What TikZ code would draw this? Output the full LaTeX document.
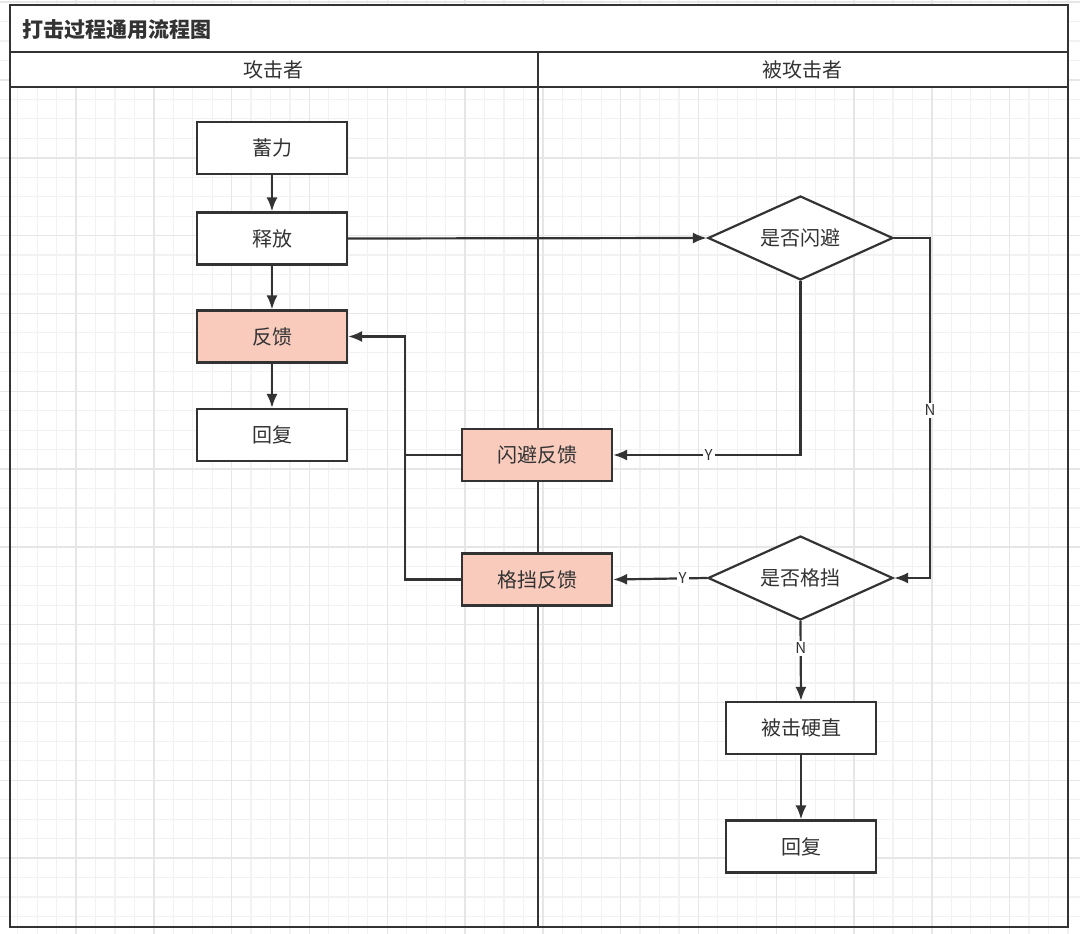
\documentclass[tikz,border=0pt]{standalone}
\usepackage{fontspec}
\setmainfont{Noto Sans CJK SC}
\usepackage{xcolor}
\usetikzlibrary{shapes.geometric,arrows.meta}
\definecolor{inkgray}{HTML}{333333}
\definecolor{fbfill}{HTML}{F8CBBD}
\definecolor{gridminor}{HTML}{F2F2F2}
\definecolor{gridmajor}{HTML}{E6E6E6}

\begin{document}
\begin{tikzpicture}[x=1pt,y=-1pt,
    stepbox/.style={draw=inkgray,line width=2.2pt,fill=white,minimum width=150pt,minimum height=52pt,inner sep=0pt,text=inkgray,font=\fontsize{20}{24}\selectfont},
    fbbox/.style={stepbox,fill=fbfill},
    ask/.style={diamond,aspect=2.2,draw=inkgray,line width=2.2pt,fill=white,minimum width=185pt,minimum height=84pt,inner sep=0pt,text=inkgray,font=\fontsize{20}{24}\selectfont},
    flow/.style={draw=inkgray,line width=2.2pt,-{Latex[length=14pt,width=11pt]}},
    yn/.style={fill=white,inner sep=2pt,text=inkgray,font=\fontsize{15}{17}\selectfont}]
                \useasboundingbox (0,0) rectangle (1080,934);
                \fill[white] (0,0) rectangle (1080,934);
                \foreach \i in {0,...,56} \draw[gridminor,line width=1.2pt] ({-1.8+19.45*\i},0) -- ++(0,934);
                \foreach \j in {0,...,48} \draw[gridminor,line width=1.2pt] (0,{2.2+19.45*\j}) -- ++(1080,0);
                \foreach \i in {0,...,14} \draw[gridmajor,line width=1.4pt] ({-1.8+77.8*\i},0) -- ++(0,934);
                \foreach \j in {0,...,12} \draw[gridmajor,line width=1.4pt] (0,{2.2+77.8*\j}) -- ++(1080,0);

                \fill[white] (10,5) rectangle (1068,87);
                \draw[inkgray,line width=2.6pt] (10,5) rectangle (1068,927);
                \draw[inkgray,line width=2.2pt] (10,52) -- (1068,52);
                \draw[inkgray,line width=2.2pt] (10,87) -- (1068,87);
                \draw[inkgray,line width=2.2pt] (538,52) -- (538,927);
                \node[anchor=west,inner sep=0pt,text=inkgray,font=\fontsize{21}{24}\selectfont\bfseries] (title) at (22,30) {打击过程通用流程图};
                \node[text=inkgray,font=\fontsize{20}{24}\selectfont] (laneA) at (273,70) {攻击者};
                \node[text=inkgray,font=\fontsize{20}{24}\selectfont] (laneB) at (802,70) {被攻击者};

                \node[stepbox] (xuli) at (272,148) {蓄力};
                \node[stepbox] (shifang) at (272,238.5) {释放};
                \node[fbbox] (fankui) at (272,336.5) {反馈};
                \node[stepbox] (huifuA) at (272,435) {回复};
                \node[fbbox] (sbfk) at (537,455) {闪避反馈};
                \node[fbbox] (gdfk) at (537,579.5) {格挡反馈};
                \node[ask] (shanbi) at (800.5,238) {是否闪避};
                \node[ask] (gedang) at (800.5,578) {是否格挡};
                \node[stepbox] (beiji) at (801,728) {被击硬直};
                \node[stepbox] (huifuB) at (801,846.5) {回复};
                \coordinate (join) at (405,455);

                \draw[flow] (xuli) -- (shifang);
                \draw[flow] (shifang) -- (fankui);
                \draw[flow] (fankui) -- (huifuA);
                \draw[flow] (shifang.east) -- (shanbi.west);
                \draw[flow] (shanbi.south) |- (sbfk.east) node[yn,pos=0.745]{Y};
                \draw[flow] (shanbi.east) -- ++(36,0) |- (gedang.east) node[yn,pos=0.253]{N};
                \draw[flow] (gedang.west) -- (gdfk.east) node[yn,pos=0.26]{Y};
                \draw[flow] (gedang.south) -- (beiji.north) node[yn,pos=0.34]{N};
                \draw[flow] (beiji) -- (huifuB);
                \draw[flow] (sbfk.west) -- (join) |- (fankui.east);
                \draw[inkgray,line width=2.2pt] (gdfk.west) -| (join);
            \end{tikzpicture}
\end{document}
